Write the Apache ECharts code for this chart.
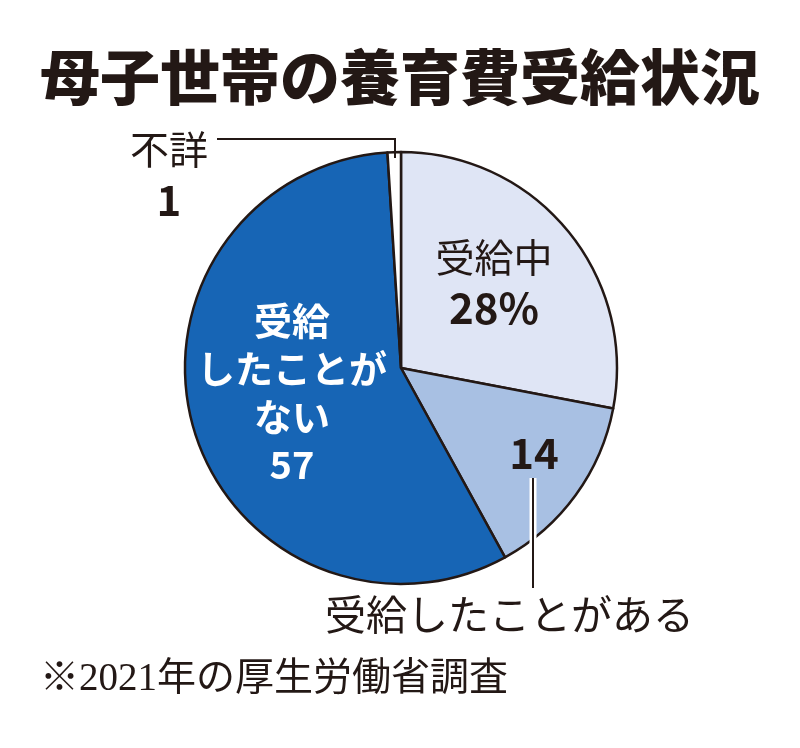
<!DOCTYPE html>
<html>
<head>
<meta charset="utf-8">
<script src="https://cdn.jsdelivr.net/npm/echarts@6/dist/echarts.min.js"></script>
<style>
  html, body { margin: 0; padding: 0; background: #fff; }
  #chart { width: 800px; height: 748px; }
</style>
</head>
<body>
<div id="chart"></div>
<script>
const titleText = '母子世帯の養育費受給状況';
const categories = ['受給中', '受給したことがある', '受給したことがない', '不詳'];
const values = [28, 14, 57, 1];
const insideNames = ['受給中', '', '受給\nしたことが\nない', '不詳'];
const noteText = '※2021年の厚生労働省調査';

const sliceColors = ['#dfe5f5', '#a8c0e3', '#1765b5', '#ffffff'];
const font = "'Noto Sans CJK JP', 'Noto Sans', sans-serif";

// where each slice label sits (px)
const labelPos = [
    { x: 494, y: 282 },
    { x: 534, y: 453 },
    { x: 292, y: 393 },
    { x: 169, y: 174 }
];

const chart = echarts.init(document.getElementById('chart'));

chart.setOption({
    backgroundColor: '#fff',
    title: {
        text: titleText, left: 'center', top: 42,
        textStyle: { fontFamily: font, fontSize: 60, fontWeight: 900, color: '#231815' }
    },
    series: [{
        type: 'pie',
        center: [401, 368],
        radius: [0, 216],
        startAngle: 90,
        clockwise: true,
        silent: true,
        data: categories.map((c, i) => ({
            name: c, value: values[i],
            itemStyle: { color: sliceColors[i], borderColor: '#231815', borderWidth: 2.5 }
        })),
        label: {
            show: true,
            position: 'inside',
            formatter: p => {
                const i = p.dataIndex;
                if (i === 0) return '{n|' + insideNames[i] + '}\n{v|' + p.value + '%}';
                if (i === 1) return '{v|' + p.value + '}';
                if (i === 2) return '{w|' + insideNames[i] + '}\n{w|' + p.value + '}';
                return '{n|' + insideNames[i] + '}\n{v|' + p.value + '}';
            },
            rich: {
                n: { fontFamily: font, fontSize: 39, color: '#231815', lineHeight: 52, align: 'center' },
                v: { fontFamily: font, fontSize: 42, fontWeight: 'bold', color: '#231815', lineHeight: 50, align: 'center' },
                w: { fontFamily: font, fontSize: 38, fontWeight: 'bold', color: '#fff', lineHeight: 48, align: 'center' }
            }
        },
        labelLine: { show: false },
        labelLayout: p => ({
            x: labelPos[p.dataIndex].x,
            y: labelPos[p.dataIndex].y,
            align: 'center',
            verticalAlign: 'middle'
        })
    }],
    graphic: [
        // leader for 不詳
        { type: 'polyline', z: 100, shape: { points: [[217, 139], [395, 139], [395, 158]] },
          style: { stroke: '#231815', lineWidth: 2, fill: null } },
        // leader for 受給したことがある
        { type: 'line', z: 100, shape: { x1: 533, y1: 478, x2: 533, y2: 588 },
          style: { stroke: '#fff', lineWidth: 7 } },
        { type: 'line', z: 101, shape: { x1: 533, y1: 478, x2: 533, y2: 588 },
          style: { stroke: '#231815', lineWidth: 2 } },
        { type: 'text', z: 100, left: 325, top: 594,
          style: { text: categories[1], font: "41px " + font, fill: '#231815' } },
        { type: 'text', z: 100, left: 40, top: 660,
          style: { text: noteText, font: "39px 'Liberation Serif', 'Noto Sans CJK JP', serif", fill: '#231815' } }
    ]
});
</script>
</body>
</html>
